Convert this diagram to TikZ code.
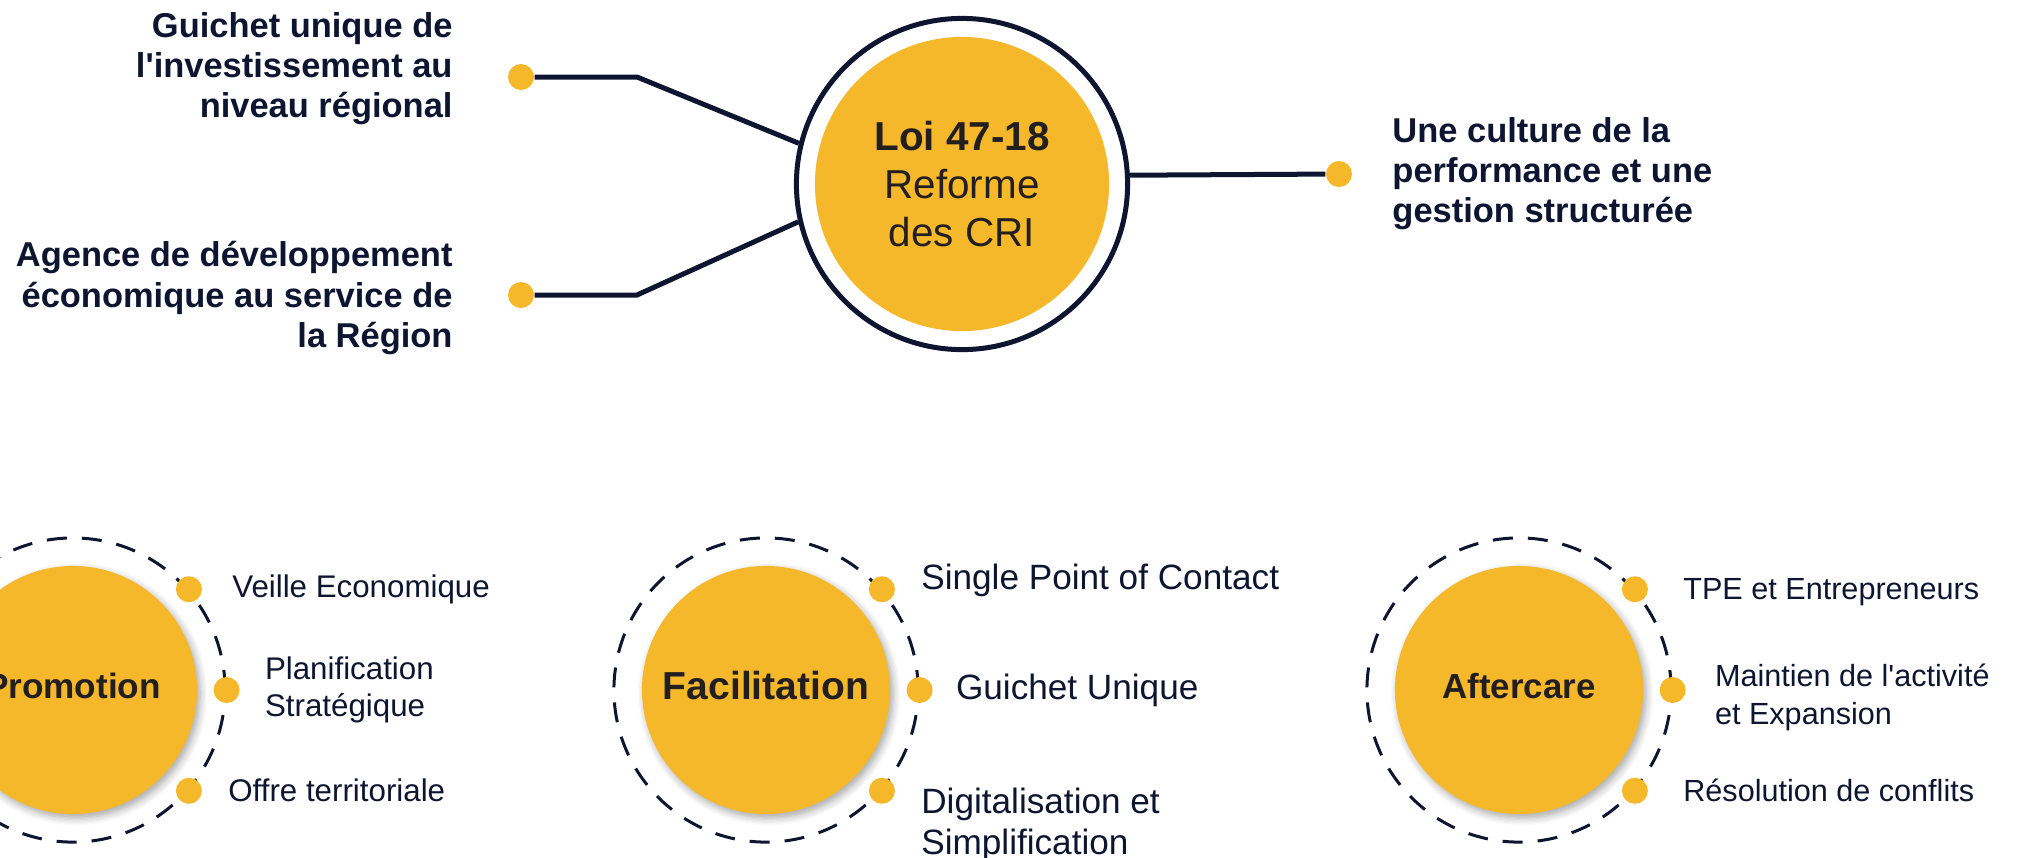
\documentclass[tikz,border=0pt]{standalone}
\usepackage{fontspec}
\setmainfont{Liberation Sans}[Ligatures=TeXOff]
\usetikzlibrary{positioning,shadows.blur}
\definecolor{navy}{RGB}{13,21,48}
\definecolor{ink}{RGB}{35,31,32}
\definecolor{gold}{RGB}{245,184,43}
\tikzset{
	dot/.style={circle,fill=gold,minimum size=0.26cm,inner sep=0pt},
	link/.style={draw=navy,line width=0.05cm},
	toplbl/.style={font=\bfseries\fontsize{9.8}{11.4}\selectfont,text=navy,inner sep=0pt},
	sublbl/.style={font=\fontsize{8.9}{10.6}\selectfont,text=navy,inner sep=0pt,align=left},
	biglbl/.style={font=\fontsize{10}{11.4}\selectfont},
	smalllbl/.style={font=\fontsize{8.7}{10.8}\selectfont},
	core/.style={circle,fill=gold,minimum size=2.48cm,inner sep=0pt,text=ink,
		blur shadow={shadow blur steps=6,shadow xshift=0.03cm,shadow yshift=-0.04cm,shadow opacity=35}},
	orbit/.style={circle,draw=navy,line width=0.03cm,dash pattern=on 0.2cm off 0.15cm,minimum size=3.04cm,inner sep=0pt}
}
\begin{document}
\begin{tikzpicture}[x=0.01cm,y=-0.01cm]
	\clip (0,0) rectangle (2022,857);
	\node[circle,draw=navy,line width=0.05cm,minimum size=3.31cm] (loi) at (962,184) {};
	\node[circle,fill=gold,minimum size=2.94cm,inner sep=0pt,align=center,text=ink,font=\fontsize{11.5}{13.7}\selectfont] (cri) at (loi) {\textbf{Loi 47-18}\\Reforme\\des CRI};
	\node[dot] (g1) at (521,77) {};
	\node[dot] (g2) at (521,295) {};
	\node[dot] (g3) at (1339,174) {};
	\coordinate (k1) at (637,77);
	\coordinate (k2) at (637,295);
	\draw[link] (g1) -- (k1) -- (loi.166.8);
	\draw[link] (g2) -- (k2) -- (loi.193.2);
	\draw[link] (loi.3.5) -- (g3);
	\node[toplbl,align=right,left=0.54cm of g1,yshift=0.08cm] (t1) {Guichet unique de\\l'investissement au\\niveau régional};
	\node[toplbl,align=right,left=0.54cm of g2,yshift=-0.03cm] (t2) {Agence de développement\\économique au service de\\la Région};
	\node[toplbl,align=left,right=0.39cm of g3] (t3) {Une culture de la\\performance et une\\gestion structurée};
	\foreach \X/\N/\T/\S in {73/pr/Promotion/10,766/fa/Facilitation/11.1,1519/af/Aftercare/9.9}
	{
		\node[orbit] (\N) at (\X,690) {};
		\node[core,font=\bfseries\fontsize{\S}{\S}\selectfont] (\N-c) at (\N) {};
		\node[text=ink,font=\bfseries\fontsize{\S}{\S}\selectfont,yshift=0.04cm] (\N-t) at (\N-c) {\T};
		\foreach \A [count=\I] in {41,0,-41}
			\node[dot] (\N\I) at (\N.\A) {};
	}
	\node[sublbl,right=0.29cm of pr1] (pr1-t) {Veille Economique};
	\node[sublbl,right=0.24cm of pr2] (pr2-t) {Planification\\Stratégique};
	\node[sublbl,right=0.25cm of pr3] (pr3-t) {Offre territoriale};
	\node[sublbl,biglbl,right=0.25cm of fa1,yshift=0.09cm] (fa1-t) {Single Point of Contact};
	\node[sublbl,biglbl,right=0.22cm of fa2] (fa2-t) {Guichet Unique};
	\node[sublbl,biglbl,right=0.25cm of fa3,anchor=north west,yshift=0.03cm] (fa3-t) {Digitalisation et\\Simplification};
	\node[sublbl,smalllbl,right=0.34cm of af1,yshift=-0.03cm] (af1-t) {TPE et Entrepreneurs};
	\node[sublbl,smalllbl,right=0.28cm of af2,yshift=-0.07cm] (af2-t) {Maintien de l'activité\\et Expansion};
	\node[sublbl,smalllbl,right=0.34cm of af3] (af3-t) {Résolution de conflits};
\end{tikzpicture}
\end{document}
